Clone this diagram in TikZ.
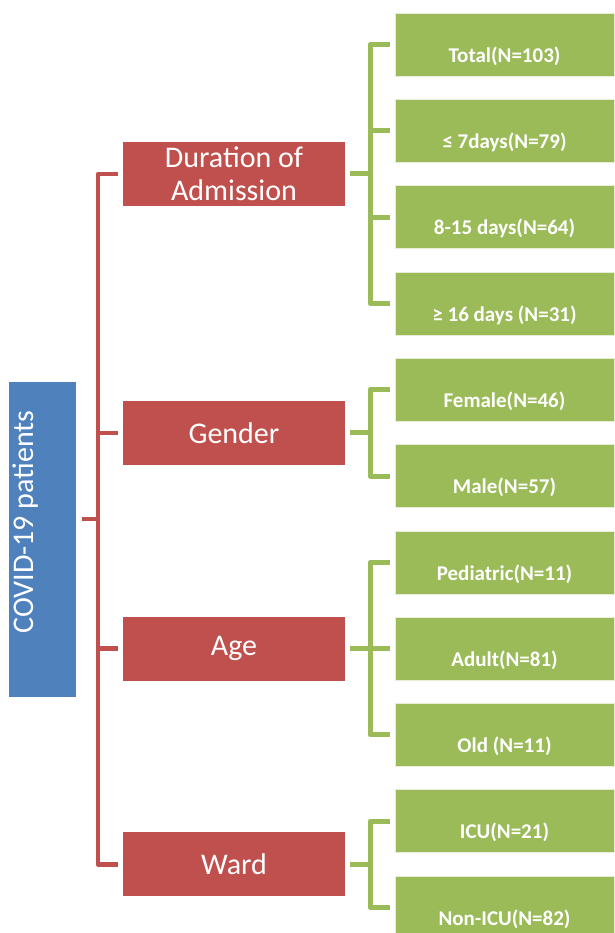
\documentclass[tikz,border=0pt]{standalone}
\usepackage{fontspec}
\setmainfont{Carlito}
\usetikzlibrary{calc}
\definecolor{cblue}{HTML}{4F81BD}
\definecolor{cred}{HTML}{C0504D}
\definecolor{cgreen}{HTML}{9BBB59}
\begin{document}
\begin{tikzpicture}[x=1pt,y=-1pt,
 rootbox/.style={fill=cblue, minimum width=67pt, minimum height=315pt, inner sep=0},
 roottext/.style={text=white, rotate=90, font=\fontsize{30}{34}\selectfont},
 catbox/.style={fill=cred, minimum width=222pt, minimum height=64pt, inner sep=0, text=white, font=\fontsize{30}{33}\selectfont, align=center},
 leafbox/.style={fill=cgreen, draw=white!75!cgreen, line width=0.6pt, minimum width=219pt, minimum height=63pt, inner sep=0},
 leaftext/.style={text=white, font=\bfseries\fontsize{21}{24}\selectfont},
 redline/.style={draw=cred, line width=4.5pt, line join=round},
 greenline/.style={draw=cgreen, line width=5pt, line join=round}]
\useasboundingbox (0,0) rectangle (614,933);
% root
\node[rootbox] (root) at (42.5,539.5) {};
\node[roottext] (roottxt) at (26,522) {COVID-19 patients};
% categories
\node[catbox] (dur) at (234,174) {Duration of\\Admission};
\node[catbox] (gen) at (234,432.8) {Gender};
\node[catbox] (age) at (234,648.6) {Age};
\node[catbox] (ward) at (234,864.3) {Ward};
% leaves
\foreach \n/\t [count=\k from 0] in {l1/{Total(N=103)}, l2/{≤ 7days(N=79)}, l3/{8-15 days(N=64)}, l4/{≥ 16 days (N=31)}, l5/{Female(N=46)}, l6/{Male(N=57)}, l7/{Pediatric(N=11)}, l8/{Adult(N=81)}, l9/{Old (N=11)}, l10/{ICU(N=21)}, l11/{Non-ICU(N=82)}}{
  \node[leafbox, label={[leaftext, yshift=-11.5pt]center:\t}] (\n) at (504.5,{44.5+86.3*\k}) {};
}
% red tree
\coordinate (trunk) at (98,519);
\draw[redline] ($(root.east |- trunk)+(6,0)$) -- (trunk);
\draw[redline] ($(dur.west)+(-5,0)$) -| (trunk |- dur.west) |- ($(ward.west)+(-5,0)$);
\draw[redline] ($(gen.west)+(-5,0)$) -- (trunk |- gen.west);
\draw[redline] ($(age.west)+(-5,0)$) -- (trunk |- age.west);
% green trees
\coordinate (gx) at (370,0);
\draw[greenline] ($(dur.east)+(5,0)$) -- (gx |- dur.east);
\draw[greenline] ($(l1.west)+(-5,0)$) -| (gx |- l1.west) |- ($(l4.west)+(-5,0)$);
\draw[greenline] ($(l2.west)+(-5,0)$) -- (gx |- l2.west);
\draw[greenline] ($(l3.west)+(-5,0)$) -- (gx |- l3.west);
\draw[greenline] ($(gen.east)+(5,0)$) -- (gx |- gen.east);
\draw[greenline] ($(l5.west)+(-5,0)$) -| (gx |- l5.west) |- ($(l6.west)+(-5,0)$);
\draw[greenline] ($(age.east)+(5,0)$) -- (gx |- age.east);
\draw[greenline] ($(l7.west)+(-5,0)$) -| (gx |- l7.west) |- ($(l9.west)+(-5,0)$);
\draw[greenline] ($(l8.west)+(-5,0)$) -- (gx |- l8.west);
\draw[greenline] ($(ward.east)+(5,0)$) -- (gx |- ward.east);
\draw[greenline] ($(l10.west)+(-5,0)$) -| (gx |- l10.west) |- ($(l11.west)+(-5,0)$);
\end{tikzpicture}
\end{document}
